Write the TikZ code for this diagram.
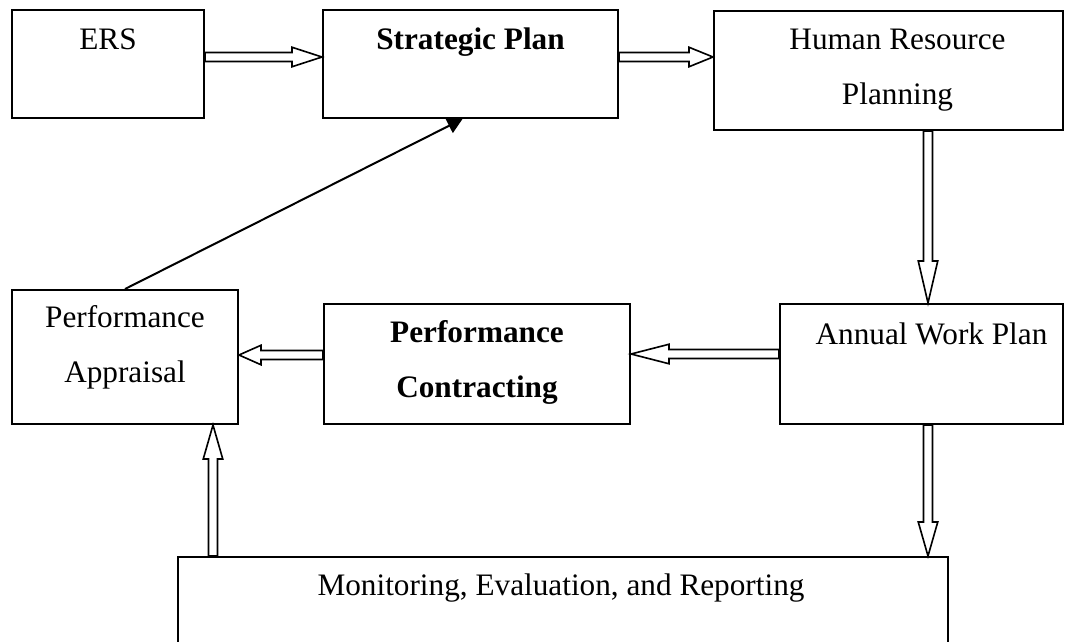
\documentclass[tikz,border=0pt]{standalone}
\usepackage{fontspec}
\setmainfont{Liberation Serif}
\usetikzlibrary{calc,arrows.meta}

% hollow block arrow: [head length in px]{start}{tip}
\newcommand{\hollowarrow}[3][30]{%
  \coordinate (hb) at ($(#3)!#1*\sz!(#2)$);
  \draw[blockarrow] ($(#2)!1.8pt!90:(#3)$) -- ($(hb)!1.8pt!90:(#3)$) -- ($(hb)!3.9pt!90:(#3)$) -- (#3)
    -- ($(hb)!3.9pt!-90:(#3)$) -- ($(hb)!1.8pt!-90:(#3)$) -- ($(#2)!1.8pt!-90:(#3)$) -- cycle;
}

\begin{document}
\begin{tikzpicture}[
    box/.style={draw, line width=0.8pt, inner sep=0pt},
    txt/.style={inner sep=0pt, align=center, font=\fontsize{12.5}{22}\selectfont},
    blockarrow/.style={draw, fill=white, line width=0.65pt, line join=miter},
    plainarrow/.style={line width=0.8pt, -{Triangle[length=6pt,width=6.4pt]}}
  ]
  \def\sz{0.4pt}
  \useasboundingbox (0,0) rectangle (1073*\sz,-641*\sz);
  \clip (0,0) rectangle (1073*\sz,-641*\sz);

  % boxes
  \node[box, minimum width=192*\sz, minimum height=108*\sz] (ers) at (108*\sz,-64*\sz) {};
  \node[box, minimum width=295*\sz, minimum height=108*\sz] (sp) at (470.5*\sz,-64*\sz) {};
  \node[box, minimum width=349*\sz, minimum height=119*\sz] (hrp) at (888.5*\sz,-70.5*\sz) {};
  \node[box, minimum width=226*\sz, minimum height=134*\sz] (pa) at (125*\sz,-357*\sz) {};
  \node[box, minimum width=306*\sz, minimum height=120*\sz] (pc) at (477*\sz,-364*\sz) {};
  \node[box, minimum width=283*\sz, minimum height=120*\sz] (awp) at (921.5*\sz,-364*\sz) {};
  \node[box, minimum width=770*\sz, minimum height=160*\sz] (mer) at (563*\sz,-637*\sz) {};

  % texts
  \node[txt, anchor=base] (ers-t) at ([yshift=-40*\sz]ers.north) {ERS};
  \node[txt, anchor=base] (sp-t) at ([yshift=-40*\sz]sp.north) {\textbf{Strategic Plan}};
  \node[txt] (hrp-t) at ([xshift=9*\sz]hrp.center) {Human Resource\\Planning};
  \node[txt] (pa-t) at ([yshift=9.5*\sz]pa.center) {Performance\\Appraisal};
  \node[txt] (pc-t) at ([yshift=1.5*\sz]pc.center) {\textbf{Performance}\\\textbf{Contracting}};
  \node[txt, anchor=base] (awp-t) at ([xshift=10*\sz,yshift=-41*\sz]awp.north) {Annual Work Plan};
  \node[txt, anchor=base] (mer-t) at ([xshift=-2*\sz,yshift=-39*\sz]mer.north) {Monitoring, Evaluation, and Reporting};

  % arrow ends
  \coordinate (a1s) at ([yshift=7*\sz]ers.east);
  \coordinate (a1t) at ([yshift=7*\sz]sp.west);
  \coordinate (a2s) at ([yshift=7*\sz]sp.east);
  \coordinate (a2t) at (hrp.west |- a2s);
  \coordinate (a3s) at ([xshift=39.5*\sz]hrp.south);
  \coordinate (a3t) at (awp.north -| a3s);
  \coordinate (a4s) at ([yshift=10*\sz]awp.west);
  \coordinate (a4t) at ([yshift=10*\sz]pc.east);
  \coordinate (a5s) at ([yshift=9*\sz]pc.west);
  \coordinate (a5t) at (pa.east |- a5s);
  \coordinate (a6s) at (awp.south -| a3s);
  \coordinate (a6t) at (mer.north -| a3s);
  \coordinate (a7s) at (mer.north -| 213*\sz,0);
  \coordinate (a7t) at (pa.south -| a7s);

  \hollowarrow[30]{a1s}{a1t}
  \hollowarrow[24]{a2s}{a2t}
  \hollowarrow[42]{a3s}{a3t}
  \hollowarrow[38]{a4s}{a4t}
  \hollowarrow[22]{a5s}{a5t}
  \hollowarrow[34]{a6s}{a6t}
  \hollowarrow[34]{a7s}{a7t}

  \draw[plainarrow] (pa.north) -- ([xshift=-8*\sz]sp.south);
\end{tikzpicture}
\end{document}
